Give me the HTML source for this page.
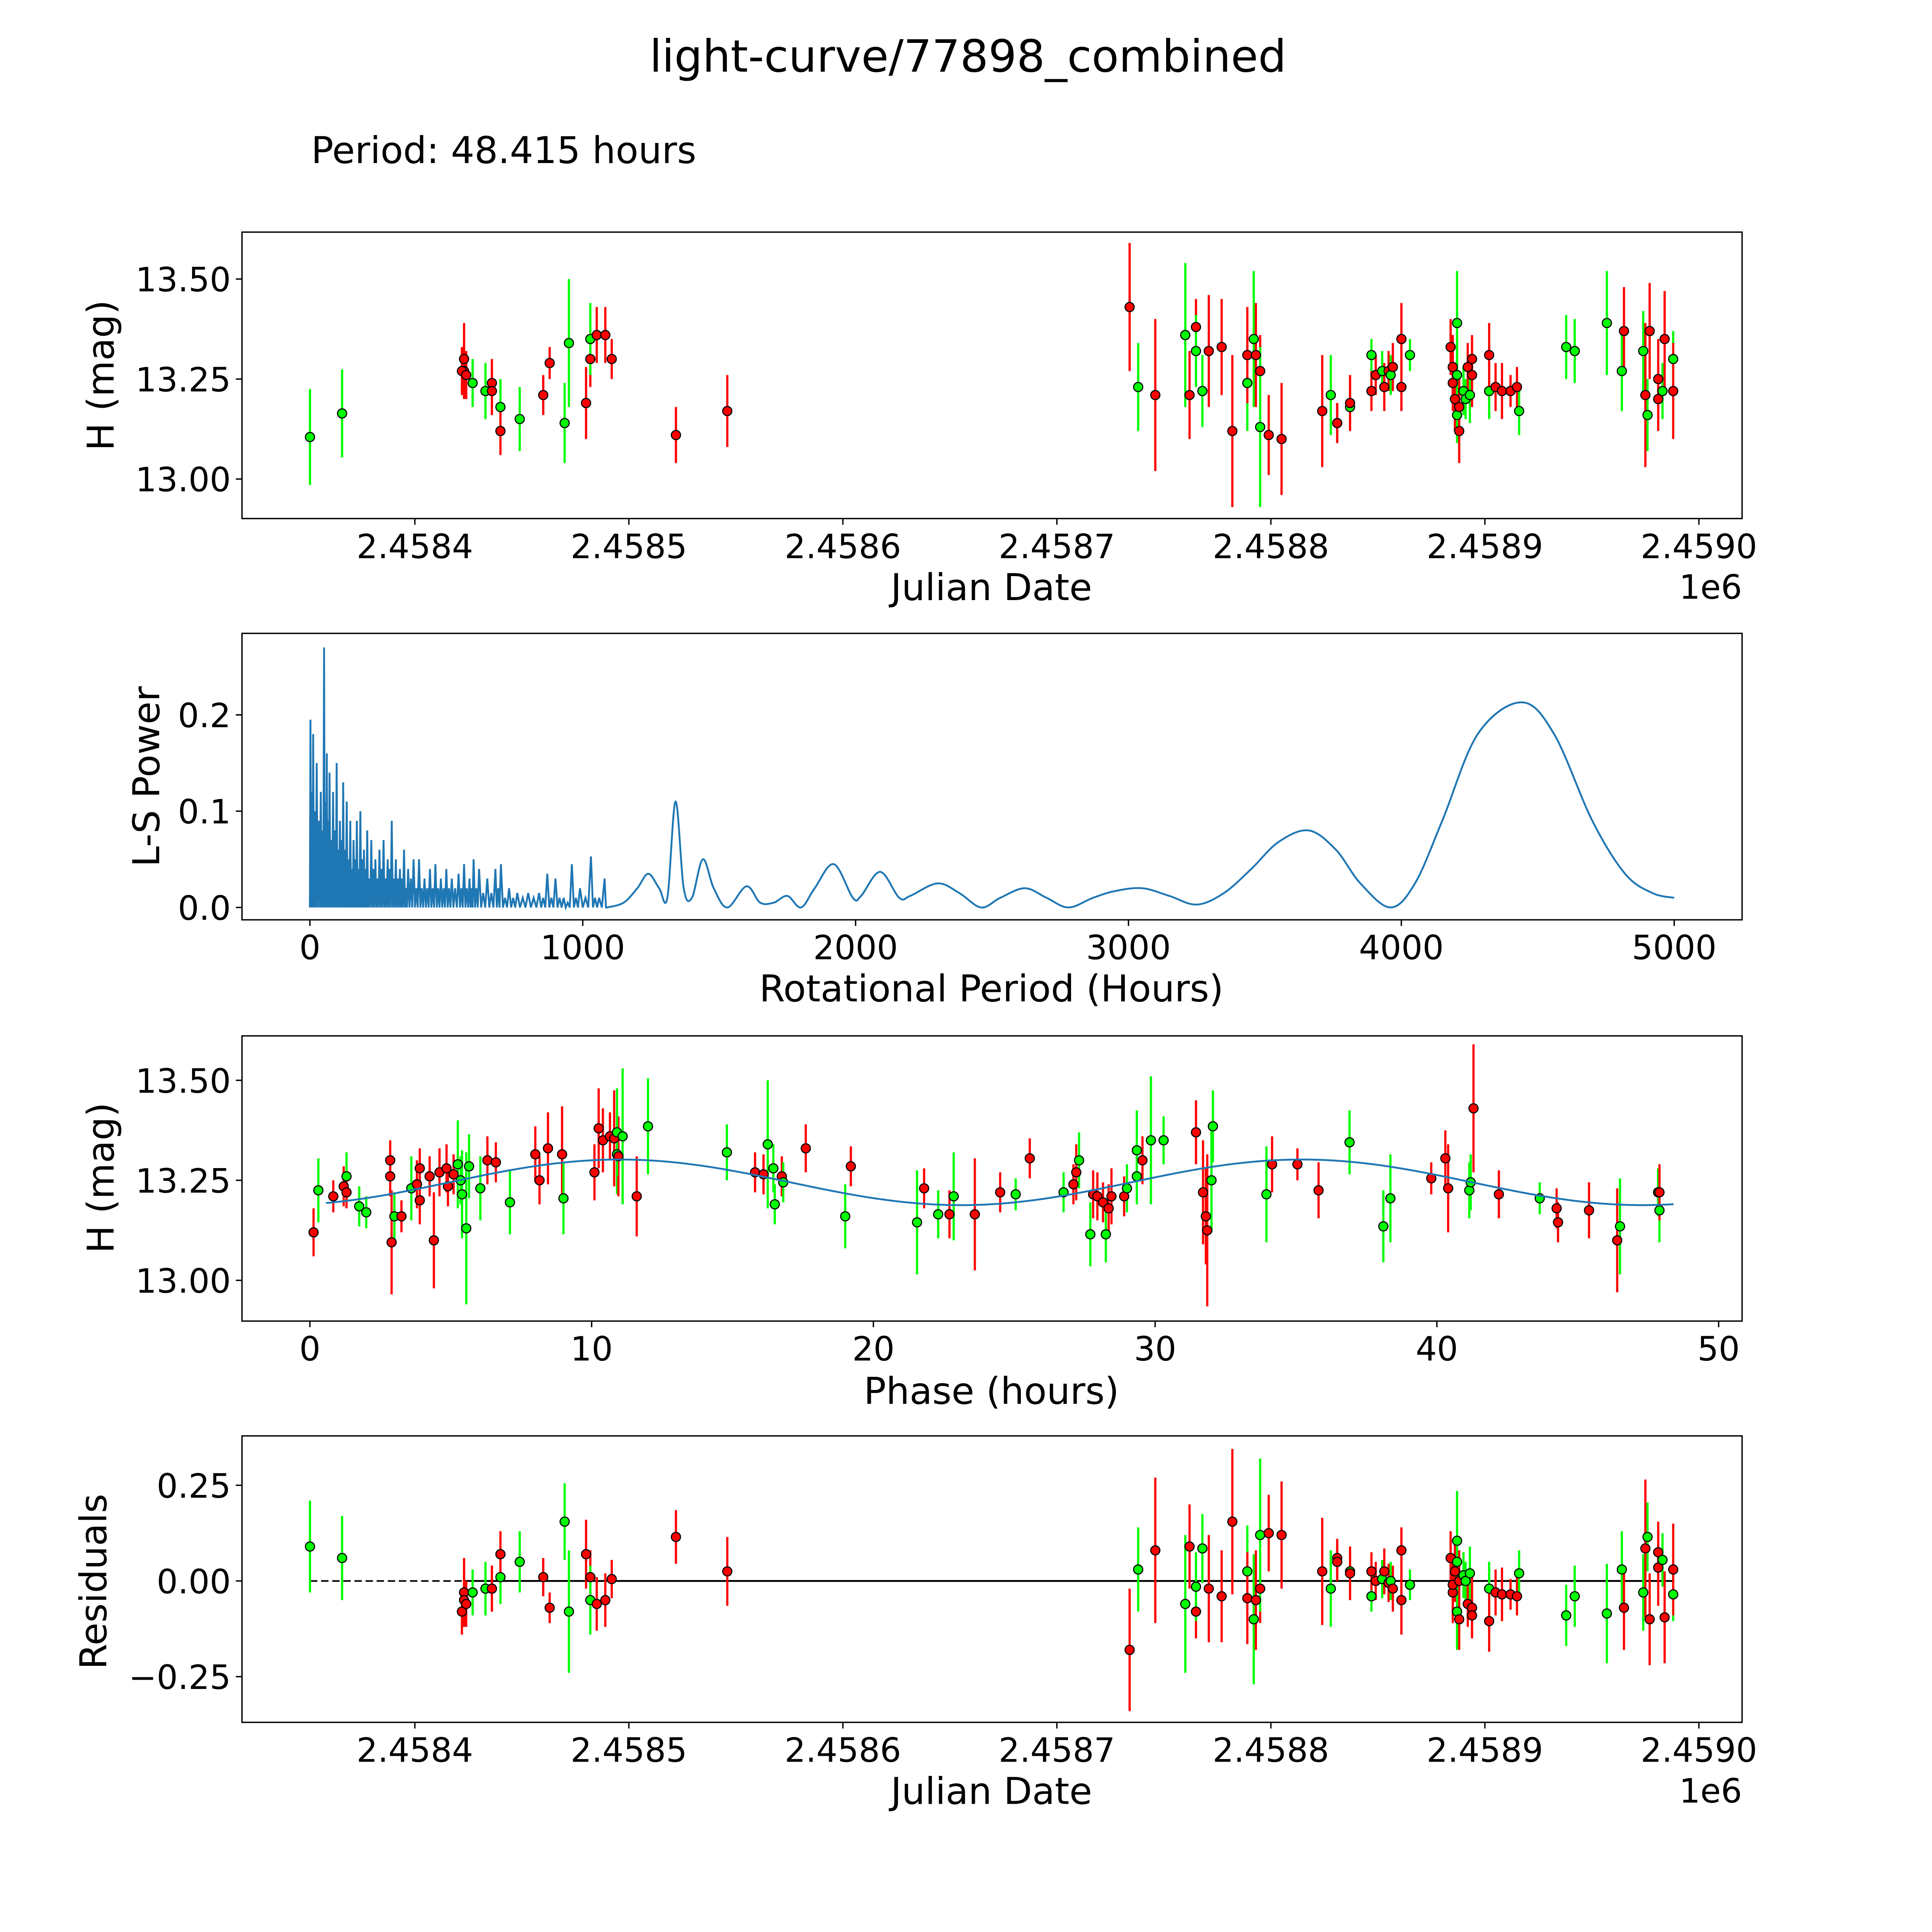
<!DOCTYPE html>
<html><head><meta charset="utf-8"><style>
html,body{margin:0;padding:0;background:#fff;width:5400px;height:5400px;overflow:hidden;}
svg{display:block;font-family:"DejaVu Sans","Liberation Sans",sans-serif;}
</style></head><body>
<svg id="fig" width="5400" height="5400" viewBox="0 0 1690 1690" xmlns="http://www.w3.org/2000/svg">
<rect width="1690" height="1690" fill="#fff"/>
<text x="784" y="58" font-size="36" text-anchor="middle">light-curve/77898_combined</text>
<text x="252" y="132" font-size="30">Period: 48.415 hours</text>
<g id="g"></g>
</svg>
<script>
// ---- Panel 1 & 4 data (days = JD - 2458000) ----
const days = [351,366,423,423,422,424,427,433,436,436,440,440,449,460,463,470,472,480,482,482,485,489,492,522,546,
734,738,746,760,762,765,765,768,771,777,782,789,789,792,793,795,795,799,805,824,828,831,831,837,837,847,847,849,852,853,855,856,857,861,861,865,
884,885,885,886,887,887,887,888,888,890,891,892,893,894,894,902,902,905,908,912,915,916,938,942,957,964,965,974,975,976,977,981,981,983,984,988,988];
const mags = [13.105,13.164,13.30,13.27,13.27,13.26,13.24,13.22,13.24,13.22,13.18,13.12,13.15,13.21,13.29,13.14,13.34,13.19,13.30,13.35,13.36,13.36,13.30,13.11,13.17,
13.43,13.23,13.21,13.36,13.21,13.38,13.32,13.22,13.32,13.33,13.12,13.24,13.31,13.35,13.31,13.27,13.13,13.11,13.10,13.17,13.21,13.14,13.14,13.18,13.19,13.31,13.22,13.26,13.27,13.23,13.27,13.26,13.28,13.35,13.23,13.31,
13.33,13.28,13.24,13.20,13.16,13.26,13.39,13.12,13.18,13.22,13.20,13.28,13.21,13.26,13.30,13.22,13.31,13.23,13.22,13.22,13.23,13.17,13.33,13.32,13.39,13.27,13.37,13.32,13.21,13.16,13.37,13.25,13.20,13.22,13.35,13.30,13.22];
const errs = [0.12,0.11,0.09,0.07,0.06,0.06,0.06,0.07,0.06,0.06,0.07,0.06,0.08,0.05,0.04,0.10,0.16,0.09,0.07,0.09,0.07,0.07,0.05,0.07,0.09,
0.16,0.11,0.19,0.18,0.11,0.07,0.09,0.09,0.14,0.12,0.19,0.12,0.12,0.17,0.13,0.09,0.20,0.10,0.14,0.14,0.10,0.05,0.05,0.05,0.07,0.04,0.05,0.05,0.05,0.06,0.05,0.05,0.06,0.09,0.06,0.04,
0.07,0.08,0.07,0.08,0.07,0.10,0.13,0.08,0.08,0.06,0.05,0.06,0.07,0.08,0.06,0.07,0.08,0.06,0.07,0.04,0.05,0.06,0.08,0.08,0.13,0.10,0.11,0.10,0.18,0.09,0.12,0.10,0.08,0.07,0.12,0.07,0.12];
const colors = "ggrrrrggrrgrgrrggrrgrrrrrrgrgrrggrrrgrgrrgrrrgrrgrgrrgrrgrrrgrrrrgggrrggrgrrgrrrrrgggggrgrgrrrgrgrg";
const resid = [0.09,0.06,-0.03,-0.05,-0.08,-0.06,-0.03,-0.02,-0.02,-0.02,0.01,0.07,0.05,0.01,-0.07,0.155,-0.08,0.07,0.01,-0.05,-0.06,-0.05,0.005,0.115,0.025,
-0.18,0.03,0.08,-0.06,0.09,-0.08,-0.015,0.085,-0.02,-0.04,0.155,0.025,-0.045,-0.1,-0.05,-0.02,0.12,0.125,0.12,0.025,-0.02,0.06,0.05,0.025,0.02,-0.04,0.025,0,0.005,0.025,-0.005,0,-0.02,-0.05,0.08,-0.01,
0.06,-0.03,-0.01,0.025,0.05,-0.08,0.105,-0.1,0,0.015,0,-0.06,0.02,-0.07,-0.09,-0.02,-0.105,-0.03,-0.035,-0.035,-0.04,0.02,-0.09,-0.04,-0.085,0.03,-0.07,-0.03,0.085,0.115,-0.1,0.035,0.075,0.055,-0.095,-0.035,0.03];

// ---- Panel 3 (phase) data ----
const phases = [0.13,0.3,0.83,1.2,1.3,1.3,1.75,2.0,2.85,2.85,2.9,3.0,3.25,3.6,3.8,3.9,3.9,4.25,4.4,4.6,4.85,4.9,5.1,5.25,5.35,5.4,5.55,5.65,6.05,6.3,6.6,7.1,8.0,8.15,8.45,8.95,9.0,10.1,10.25,10.4,10.65,10.8,10.9,10.95,10.9,11.1,11.6,12.0,
14.8,15.8,16.1,16.25,16.45,16.5,16.75,16.8,17.6,19.0,19.2,21.55,21.8,22.3,22.7,22.85,23.6,24.5,25.05,25.55,26.75,27.1,27.3,27.2,27.7,27.8,27.95,28.15,28.25,28.35,28.45,28.9,29.0,29.35,29.35,29.55,29.85,30.3,31.45,31.7,31.8,31.85,32.0,32.05,
33.95,34.15,35.05,35.8,36.9,38.1,38.35,39.8,40.3,40.4,41.15,41.2,41.3,42.2,43.65,44.25,44.3,45.4,46.4,46.5,47.85,47.9,47.9];
const pmags = [13.12,13.225,13.21,13.235,13.26,13.22,13.185,13.17,13.30,13.26,13.095,13.16,13.16,13.23,13.24,13.28,13.20,13.26,13.10,13.27,13.28,13.235,13.265,13.29,13.25,13.215,13.13,13.285,13.23,13.30,13.295,13.195,13.315,13.25,13.33,13.315,13.205,13.27,13.38,13.35,13.36,13.355,13.315,13.31,13.37,13.36,13.21,13.385,
13.32,13.27,13.265,13.34,13.28,13.19,13.26,13.245,13.33,13.16,13.285,13.145,13.23,13.165,13.165,13.21,13.165,13.22,13.215,13.305,13.22,13.24,13.30,13.27,13.115,13.215,13.21,13.195,13.115,13.18,13.21,13.21,13.23,13.325,13.26,13.30,13.35,13.35,13.37,13.22,13.16,13.125,13.25,13.385,
13.215,13.29,13.29,13.225,13.345,13.135,13.205,13.255,13.305,13.23,13.225,13.245,13.43,13.215,13.205,13.18,13.145,13.175,13.10,13.135,13.22,13.175,13.22];
const perrs = [0.06,0.08,0.04,0.05,0.06,0.04,0.05,0.04,0.05,0.05,0.13,0.06,0.04,0.08,0.06,0.05,0.06,0.05,0.12,0.06,0.06,0.05,0.05,0.11,0.06,0.11,0.19,0.08,0.08,0.06,0.05,0.08,0.07,0.06,0.09,0.12,0.09,0.07,0.10,0.08,0.06,0.12,0.10,0.10,0.11,0.17,0.10,0.12,
0.07,0.05,0.05,0.16,0.06,0.05,0.05,0.05,0.06,0.08,0.05,0.13,0.05,0.06,0.06,0.11,0.14,0.05,0.04,0.05,0.05,0.05,0.07,0.07,0.08,0.06,0.06,0.05,0.07,0.06,0.07,0.05,0.06,0.10,0.07,0.06,0.16,0.06,0.08,0.13,0.12,0.19,0.13,0.09,
0.12,0.07,0.04,0.07,0.08,0.09,0.11,0.04,0.07,0.11,0.07,0.07,0.16,0.06,0.04,0.05,0.05,0.07,0.13,0.12,0.06,0.08,0.07];
const pcolors = "rgrrgrggrrrgrgrrrrrrrrrggggggrrgrrrrgrrrrrgrggrggrrgggrgrgrgrgrgrrgrgrgrgrrrgrrrgggrggrrrrgggrrrgggrrrggrrgrrrrgggrgr";
const modelParams = [13.245, 0.057, 11.0, 24.2]; // mean, amplitude, peak phase, harmonic period
const modelRange = [0.57, 48.4];

// ---- Panel 2 (periodogram) data ----
const spikePeriods = [2,7,12,18,25,32,40,46,52,57,62,67,72,78,85,92,98,104,110,116,122,128,135,141,148,154,160,166,172,178,185,191,198,204,210,217,225,232,240,247,255,262,270,277,285,292,300,307,315,322,330,337,345,352,360,370,380,390,400,410,420,430,440,450,460,470,480,490,500,510,520,532,545,555,565,575,585,592,600,610,620,635,650,665,680,690,700,715,730,745,760,780,800,820,840,855,870,885,900,915,930,945,960,975,990,1010,1030,1045,1060,1080];
const spikePowers = [.195,.12,.18,.10,.15,.09,.12,.08,.27,.11,.16,.09,.14,.07,.12,.08,.15,.06,.09,.07,.13,.06,.11,.05,.09,.04,.07,.05,.09,.04,.10,.05,.06,.04,.08,.03,.07,.04,.05,.03,.06,.04,.07,.03,.05,.04,.09,.03,.05,.03,.04,.03,.06,.02,.04,.03,.05,.02,.05,.02,.03,.02,.04,.02,.045,.02,.03,.02,.04,.02,.03,.02,.035,.02,.045,.02,.03,.02,.05,.02,.04,.015,.03,.015,.04,.02,.045,.01,.02,.01,.015,.01,.015,.01,.015,.01,.035,.01,.03,.01,.01,.005,.045,.01,.02,.01,.053,.01,.01,.03];
const smoothPeriods = [1090,1150,1200,1240,1280,1310,1340,1370,1400,1440,1480,1530,1600,1650,1700,1750,1800,1850,1920,1990,2020,2090,2160,2200,2300,2380,2460,2530,2620,2700,2780,2870,2950,3050,3150,3250,3350,3450,3550,3660,3760,3850,3960,4050,4150,4280,4440,4560,4700,4820,4920,5000];
const smoothPowers = [0.0,0.005,0.02,0.035,0.02,0.01,0.11,0.02,0.01,0.05,0.02,0.0,0.022,0.005,0.005,0.012,0.0,0.02,0.045,0.01,0.012,0.037,0.01,0.012,0.025,0.015,0.0,0.01,0.02,0.01,0.0,0.01,0.017,0.02,0.012,0.003,0.015,0.04,0.068,0.08,0.06,0.025,0.0,0.025,0.09,0.18,0.213,0.18,0.09,0.035,0.015,0.01];

// ---- Tick data ----
const jdTicks = [400,500,600,700,800,900,1000];
const jdTickLabels = ["2.4584","2.4585","2.4586","2.4587","2.4588","2.4589","2.4590"];
const magTicks = [13.0,13.25,13.5];
const magTickLabels = ["13.00","13.25","13.50"];
const powTicks = [0,0.1,0.2];
const powTickLabels = ["0.0","0.1","0.2"];
const perTicks = [0,1000,2000,3000,4000,5000];
const phTicks = [0,10,20,30,40,50];
const resTicks = [-0.25,0,0.25];
const resTickLabels = ["\u22120.25","0.00","0.25"];

const NS="http://www.w3.org/2000/svg";
const G=document.getElementById('g');
function el(tag,attrs,parent){const e=document.createElementNS(NS,tag);for(const k in attrs)e.setAttribute(k,attrs[k]);(parent||G).appendChild(e);return e;}
function lin(d0,d1,p0,p1){return v=>p0+(v-d0)*(p1-p0)/(d1-d0);}

const L=196,R=1411;
const xJD=lin(400,1000,336,1376);
const y1=lin(13.0,13.5,388,226);
const xPer=lin(0,5000,251,1356);
const y2=lin(0,0.2,735,579);
const xPh=lin(0,50,251,1392);
const y3=lin(13.0,13.5,1037,875);
const y4=lin(-0.25,0.25,1358,1203);
const RED="#ff0000", GRN="#00ff00";
const TF=27, LF=30;

function frame(name,top,bot){
  const r=el('rect',{x:L,y:top,width:R-L,height:bot-top,fill:'none',stroke:'#000','stroke-width':1.1});
  
  
}
function xticks(name,vals,labels,sx,bot){
  vals.forEach((v,i)=>{
    const x=sx(v);
    const t=el('line',{x1:x,x2:x,y1:bot,y2:bot+5,stroke:'#000','stroke-width':1.1});
    
    
    const tx=el('text',{x:x,y:bot+32,'font-size':TF,'text-anchor':'middle'});
    tx.textContent=labels[i];
    
    
  });
}
function yticks(name,vals,labels,sy){
  vals.forEach((v,i)=>{
    const y=sy(v);
    const t=el('line',{x1:L-5,x2:L,y1:y,y2:y,stroke:'#000','stroke-width':1.1});
    
    
    const tx=el('text',{x:L-9,y:y+10,'font-size':TF,'text-anchor':'end'});
    tx.textContent=labels[i];
    
    
  });
}
function label(name,txt,x,y,rot){
  const a={x:x,y:y,'font-size':LF,'text-anchor':'middle'};
  if(rot)a.transform='rotate(-90 '+x+' '+y+')';
  const t=el('text',a);t.textContent=txt;
  
  
}
function points(name,xs,ys,es,cs,sx,sy){
  xs.forEach((v,i)=>{
    const c=cs[i]==='r'?RED:GRN;
    const x=sx(v),y=sy(ys[i]);
    const e=Math.abs(sy(ys[i]+es[i])-y);
    const b=el('line',{x1:x,x2:x,y1:y-e,y2:y+e,stroke:c,'stroke-width':1.8});
    
    
  });
  xs.forEach((v,i)=>{
    const c=cs[i]==='r'?RED:GRN;
    const p=el('circle',{cx:sx(v),cy:sy(ys[i]),r:3.7,fill:c,stroke:'#000','stroke-width':0.9});
    
    
  });
}

// Panel 1
frame('lightcurve',188,420);
xticks('lightcurve',jdTicks,jdTickLabels,xJD,420);
yticks('lightcurve',magTicks,magTickLabels,y1);
label('lightcurve-x-axis-title','Julian Date',803,486);
label('lightcurve-y-axis-title','H (mag)',92,304,true);
(function(){const t=el('text',{x:1411,y:485,'font-size':TF,'text-anchor':'end'});t.textContent='1e6';

})();
points('lightcurve',days,mags,errs,colors,xJD,y1);

// Panel 2
frame('periodogram',513,745);
xticks('periodogram',perTicks,perTicks.map(String),xPer,745);
yticks('periodogram',powTicks,powTickLabels,y2);
label('periodogram-x-axis-title','Rotational Period (Hours)',803,811);
label('periodogram-y-axis-title','L-S Power',129,629,true);
(function(){
  let d='M'+xPer(0)+','+y2(0);
  spikePeriods.forEach((p,i)=>{
    const nxt=i<spikePeriods.length-1?spikePeriods[i+1]:p+10;
    d+=' L'+xPer(p)+','+y2(spikePowers[i])+' L'+xPer((p+nxt)/2)+','+y2(0);
  });
  const P=smoothPeriods.map((p,i)=>[xPer(p),y2(smoothPowers[i])]);
  d+=' L'+P[0][0]+','+P[0][1];
  for(let i=0;i<P.length-1;i++){
    const p0=P[Math.max(0,i-1)],p1=P[i],p2=P[i+1],p3=P[Math.min(P.length-1,i+2)];
    const c1=[p1[0]+(p2[0]-p0[0])/6,p1[1]+(p2[1]-p0[1])/6];
    const c2=[p2[0]-(p3[0]-p1[0])/6,p2[1]-(p3[1]-p1[1])/6];
    d+=' C'+c1[0]+','+c1[1]+' '+c2[0]+','+c2[1]+' '+p2[0]+','+p2[1];
  }
  const pth=el('path',{d:d,fill:'none',stroke:'#1f77b4','stroke-width':1.5});
  
  
})();

// Panel 3
frame('phase',839,1070);
xticks('phase',phTicks,phTicks.map(String),xPh,1070);
yticks('phase',magTicks,magTickLabels,y3);
label('phase-x-axis-title','Phase (hours)',803,1137);
label('phase-y-axis-title','H (mag)',92,954,true);
points('phase',phases,pmags,perrs,pcolors,xPh,y3);
(function(){
  const [m,a,pk,per]=modelParams;
  let d='';
  for(let i=0;i<=300;i++){
    const p=modelRange[0]+(modelRange[1]-modelRange[0])*i/300;
    const v=m+a*Math.cos(2*Math.PI*(p-pk)/per);
    d+=(i?' L':'M')+xPh(p)+','+y3(v);
  }
  const pth=el('path',{d:d,fill:'none',stroke:'#1f77b4','stroke-width':1.5});
  
  
})();

// Panel 4
frame('residuals',1163,1395);
xticks('residuals',jdTicks,jdTickLabels,xJD,1395);
yticks('residuals',resTicks,resTickLabels,y4);
label('residuals-x-axis-title','Julian Date',803,1461);
label('residuals-y-axis-title','Residuals',86,1281,true);
(function(){const t=el('text',{x:1411,y:1460,'font-size':TF,'text-anchor':'end'});t.textContent='1e6';

})();
(function(){
  const d1=el('line',{x1:xJD(days[0]),x2:xJD(days[days.length-1]),y1:y4(0),y2:y4(0),stroke:'#000','stroke-width':1.3,'stroke-dasharray':'6,3'});
  
  
  const d2=el('line',{x1:xJD(days[2]),x2:xJD(days[days.length-1]),y1:y4(0),y2:y4(0),stroke:'#000','stroke-width':1.5});
  
  
})();
points('residuals',days,resid,errs,colors,xJD,y4);
</script>
</body></html>
